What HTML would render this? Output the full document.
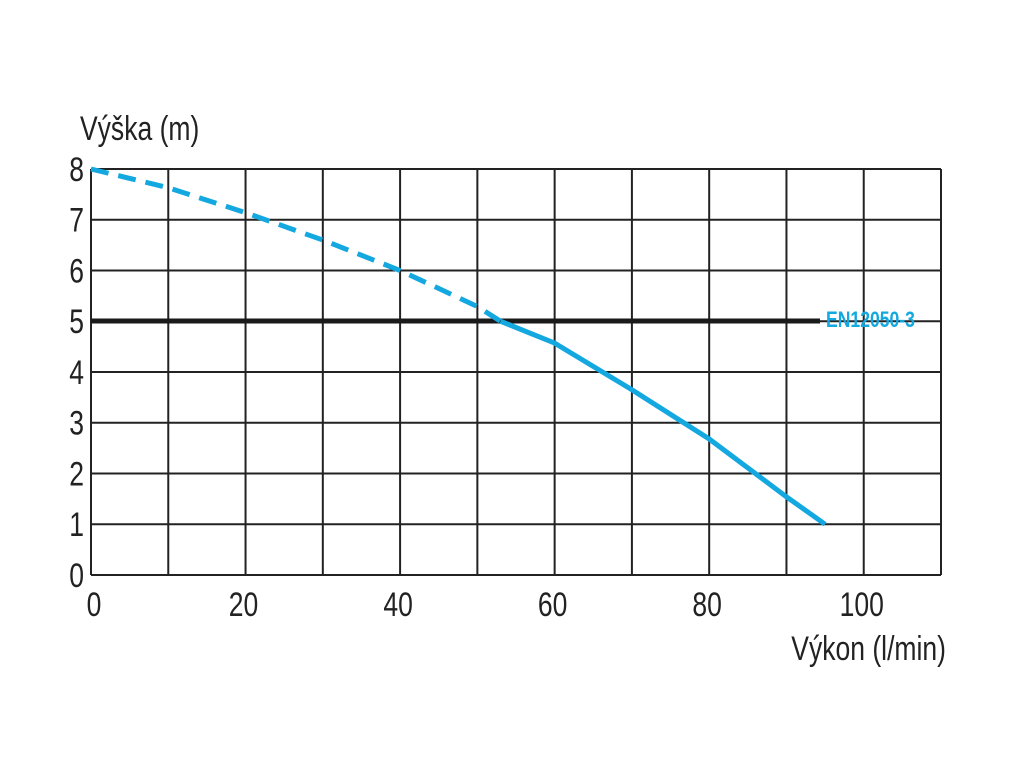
<!DOCTYPE html>
<html><head><meta charset="utf-8"><style>
body{margin:0;background:#fff}
svg text{font-family:"Liberation Sans",sans-serif}
</style></head><body>
<svg width="1024" height="768">
<g id="grid"></g>
<g id="labels"></g>
<line x1="91" y1="321" x2="820" y2="321" stroke="#1a1a1a" stroke-width="5"/>
<text x="826" y="321" font-size="22" font-weight="bold" fill="#14a8e0" transform="translate(826 0) scale(0.8 1) translate(-826 0)" dominant-baseline="middle">EN12050-3</text>
<path id="dashed" fill="none" stroke="#14a8e0" stroke-width="5" stroke-dasharray="18 10"/>
<path id="solid" fill="none" stroke="#14a8e0" stroke-width="5"/>
<text x="80" y="140" font-size="34" fill="#222" transform="translate(80 0) scale(0.78 1) translate(-80 0)">Výška (m)</text>
<text x="946" y="660" font-size="34" fill="#222" text-anchor="end" transform="translate(946 0) scale(0.78 1) translate(-946 0)">Výkon (l/min)</text>
</svg>
<script>
const xTicks=[0,20,40,60,80,100];
const yTicks=[0,1,2,3,4,5,6,7,8];
const flowX=[0,10,20,30,40,50,53,60,70,80,90,95];
const headY=[8,7.63,7.14,6.6,6.0,5.29,5.0,4.57,3.65,2.68,1.54,1.0];
const dashEnd=53;
const X=v=>91+v*(941-91)/110, Y=v=>575-v*(575-169)/8;
const ns="http://www.w3.org/2000/svg";
const g=document.getElementById('grid'), lb=document.getElementById('labels');
for(let v=0;v<=110;v+=10){const l=document.createElementNS(ns,'line');


l.setAttribute('x1',X(v));l.setAttribute('x2',X(v));l.setAttribute('y1',Y(8));l.setAttribute('y2',Y(0));l.setAttribute('stroke','#222');l.setAttribute('stroke-width','2');g.appendChild(l);}
for(let v=0;v<=8;v++){const l=document.createElementNS(ns,'line');


l.setAttribute('x1',X(0));l.setAttribute('x2',X(110));l.setAttribute('y1',Y(v));l.setAttribute('y2',Y(v));l.setAttribute('stroke','#222');l.setAttribute('stroke-width','2');g.appendChild(l);}
yTicks.forEach(v=>{const t=document.createElementNS(ns,'text');


const x=84;t.setAttribute('x',x);t.setAttribute('y',Y(v)+12);t.setAttribute('font-size','34');t.setAttribute('fill','#222');t.setAttribute('text-anchor','end');
t.setAttribute('transform',`translate(${x} 0) scale(0.78 1) translate(${-x} 0)`);t.textContent=v;lb.appendChild(t);});
xTicks.forEach(v=>{const t=document.createElementNS(ns,'text');


const x=v===0?X(0)+3:X(v)-2;t.setAttribute('x',x);t.setAttribute('y',616);t.setAttribute('font-size','34');t.setAttribute('fill','#222');t.setAttribute('text-anchor',v===0?'middle':'middle');
t.setAttribute('transform',`translate(${x} 0) scale(0.78 1) translate(${-x} 0)`);t.textContent=v;lb.appendChild(t);});
let d1='',d2='';
flowX.forEach((v,i)=>{const p=`${X(v)},${Y(headY[i])}`;
if(v<=dashEnd)d1+=(d1?'L':'M')+p;
if(v>=dashEnd)d2+=(d2?'L':'M')+p;});
document.getElementById('dashed').setAttribute('d',d1);
document.getElementById('solid').setAttribute('d',d2);
</script>
</body></html>
